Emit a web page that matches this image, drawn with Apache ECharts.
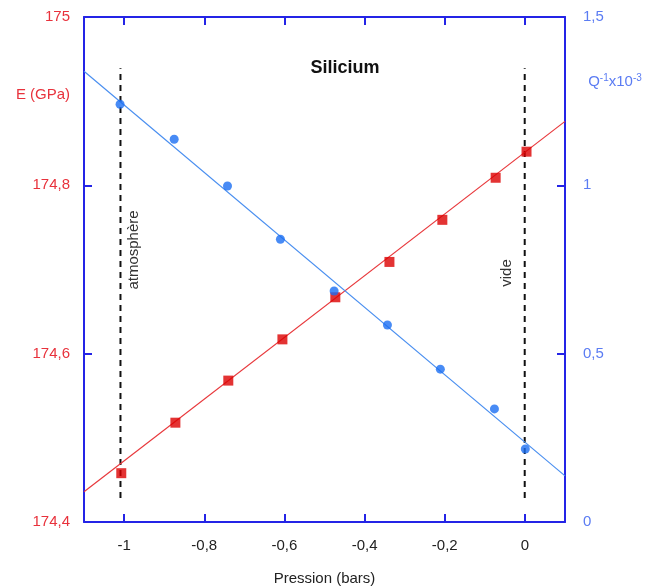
<!DOCTYPE html>
<html>
<head>
<meta charset="utf-8">
<script src="https://cdn.jsdelivr.net/npm/echarts@6/dist/echarts.min.js"></script>
<style>html,body{margin:0;padding:0;background:#fff;}#c{width:645px;height:587px;}</style>
</head>
<body>
<div id="c"></div>
<script>
// Data
var pression = [-1.007, -0.872, -0.740, -0.605, -0.473, -0.338, -0.206, -0.073, 0.004];
var moduleE = [174.458, 174.518, 174.568, 174.617, 174.667, 174.709, 174.759, 174.809, 174.840];
var pressionQ = [-1.010, -0.875, -0.742, -0.610, -0.476, -0.343, -0.211, -0.076, 0.001];
var frottementQ = [1.241, 1.137, 0.998, 0.840, 0.686, 0.585, 0.454, 0.336, 0.217];
// fitted straight lines (endpoints read at the plot edges)
var fitX = [-1.1, 0.1];
var fitE = [174.436, 174.876];
var fitQ = [1.339, 0.137];
// vertical dashed markers (atmosphere, vacuum)
var markerAtm = -1.009;
var markerVide = -0.0005;
var markerRange = [174.4285, 174.939];
var xTicks = [-1, -0.8, -0.6, -0.4, -0.2, 0];
var eTicks = [174.4, 174.6, 174.8, 175];
var qTicks = [0, 0.5, 1, 1.5];

var AXIS = '#2424e6';
var FONT = 'Liberation Sans, Arial, sans-serif';
function fmt(v){ return String(+(+v).toFixed(1)).replace('.', ','); }

var chart = echarts.init(document.getElementById('c'), null, {renderer:'canvas'});
var pairs = function(xs, ys){ return xs.map(function(x,i){ return [x, ys[i]]; }); };

chart.setOption({
  animation: false,
  backgroundColor: '#fff',
  grid: {left: 84, right: 80, top: 17, bottom: 65, containLabel: false, outerBoundsMode: 'none'},
  xAxis: [{
    type: 'value', min: -1.1, max: 0.1, position: 'bottom',
    name: 'Pression (bars)', nameLocation: 'middle', nameGap: 49,
    nameTextStyle: {color: '#222', fontSize: 15, fontFamily: FONT},
    axisLine: {show: true, onZero: false, lineStyle: {color: AXIS, width: 2}},
    axisTick: {show: true, inside: true, length: 8, customValues: xTicks, lineStyle: {color: AXIS, width: 2}},
    axisLabel: {customValues: xTicks, formatter: fmt, color: '#222', fontSize: 15, fontFamily: FONT, margin: 16},
    splitLine: {show: false}
  }, {
    type: 'value', min: -1.1, max: 0.1, position: 'top',
    axisLine: {show: true, onZero: false, lineStyle: {color: AXIS, width: 2}},
    axisTick: {show: true, inside: true, length: 8, customValues: xTicks, lineStyle: {color: AXIS, width: 2}},
    axisLabel: {show: false},
    splitLine: {show: false}
  }],
  yAxis: [{
    type: 'value', min: 174.4, max: 175, position: 'left',
    axisLine: {show: true, onZero: false, lineStyle: {color: AXIS, width: 2}},
    axisTick: {show: true, inside: true, length: 8, customValues: eTicks, lineStyle: {color: AXIS, width: 2}},
    axisLabel: {customValues: eTicks, formatter: fmt, color: '#e8323c', fontSize: 15, fontFamily: FONT, margin: 14},
    splitLine: {show: false}
  }, {
    type: 'value', min: 0, max: 1.5, position: 'right',
    axisLine: {show: true, onZero: false, lineStyle: {color: AXIS, width: 2}},
    axisTick: {show: true, inside: true, length: 8, customValues: qTicks, lineStyle: {color: AXIS, width: 2}},
    axisLabel: {customValues: qTicks, formatter: fmt, color: '#5b7cf3', fontSize: 15, fontFamily: FONT, margin: 18},
    splitLine: {show: false}
  }],
  graphic: [
    {type: 'text', style: {text: 'Silicium', x: 345, y: 68, align: 'center', verticalAlign: 'middle', fill: '#111', font: 'bold 18px ' + FONT}},
    {type: 'text', style: {text: 'E (GPa)', x: 43, y: 95, align: 'center', verticalAlign: 'middle', fill: '#e8323c', font: '15px ' + FONT}},
    {type: 'text', style: {
      text: 'Q{s|-1}x10{s|-3}', x: 615, y: 82, align: 'center', verticalAlign: 'middle',
      fill: '#5b7cf3', font: '15px ' + FONT,
      rich: {s: {fontSize: 10, fontFamily: FONT, fill: '#5b7cf3', verticalAlign: 'top', padding: [0,0,8,0]}}
    }},
    {type: 'text', x: 134, y: 250, rotation: Math.PI / 2, style: {text: 'atmosphère', x: 0, y: 0, align: 'center', verticalAlign: 'middle', fill: '#333', font: '15px ' + FONT}},
    {type: 'text', x: 507, y: 273, rotation: Math.PI / 2, style: {text: 'vide', x: 0, y: 0, align: 'center', verticalAlign: 'middle', fill: '#333', font: '15px ' + FONT}}
  ],
  series: [
    {type: 'line', xAxisIndex: 0, yAxisIndex: 0, data: [[markerAtm, markerRange[0]], [markerAtm, markerRange[1]]],
     showSymbol: false, lineStyle: {color: '#111', width: 2, type: [6, 5]}, silent: true, z: 1},
    {type: 'line', xAxisIndex: 0, yAxisIndex: 0, data: [[markerVide, markerRange[0]], [markerVide, markerRange[1]]],
     showSymbol: false, lineStyle: {color: '#111', width: 2, type: [6, 5]}, silent: true, z: 1},
    {type: 'line', xAxisIndex: 0, yAxisIndex: 0, data: pairs(fitX, fitE), showSymbol: false,
     lineStyle: {color: '#e8383c', width: 1.2}, z: 2},
    {type: 'line', xAxisIndex: 0, yAxisIndex: 1, data: pairs(fitX, fitQ), showSymbol: false,
     lineStyle: {color: '#4a8ff0', width: 1.2}, z: 2},
    {type: 'scatter', xAxisIndex: 0, yAxisIndex: 0, data: pairs(pression, moduleE), symbol: 'rect', symbolSize: 10,
     itemStyle: {color: '#dc0000'}, z: 3},
    {type: 'scatter', xAxisIndex: 0, yAxisIndex: 1, data: pairs(pressionQ, frottementQ), symbol: 'circle', symbolSize: 9,
     itemStyle: {color: '#1a6ef2'}, z: 4}
  ]
});
</script>
</body>
</html>
